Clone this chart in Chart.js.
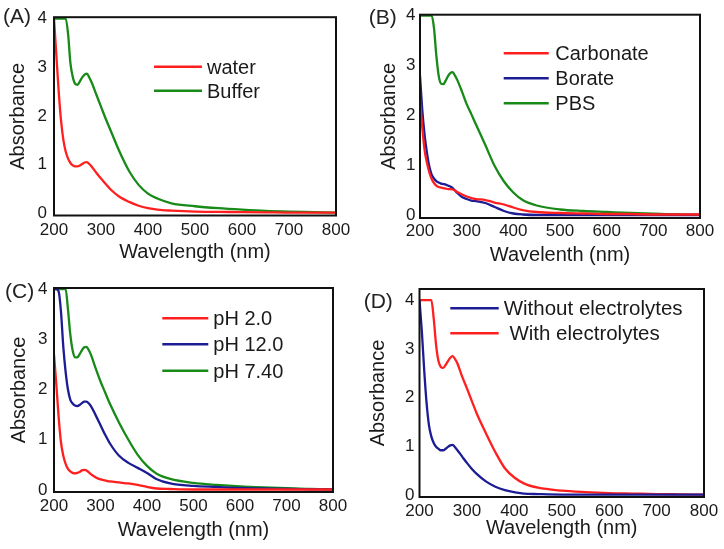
<!DOCTYPE html>
<html><head><meta charset="utf-8">
<script src="https://cdn.jsdelivr.net/npm/chart.js@4.4.1/dist/chart.umd.min.js"></script>
<style>
html,body{margin:0;padding:0;background:#fff;}
body{width:724px;height:549px;position:relative;overflow:hidden;}
canvas{position:absolute;}
</style></head><body>
<canvas id="cA" width="362" height="270" style="left:0px;top:0px"></canvas>
<canvas id="cB" width="362" height="270" style="left:362px;top:0px"></canvas>
<canvas id="cC" width="362" height="279" style="left:0px;top:270px"></canvas>
<canvas id="cD" width="362" height="279" style="left:362px;top:270px"></canvas>
<script>
// ---- data ----
const wavelengths = [200,205,210,215,220,225,230,235,240,245,250,255,260,265,270,275,280,290,300,310,320,340,360,380,400,420,450,500,550,600,650,700,750,800];
const xTicks = [200,300,400,500,600,700,800];
const yTicks = [0,1,2,3,4];

// (A)
const waterA  = [4.0,3.25,2.5,1.9,1.5,1.26,1.12,1.03,0.98,0.96,0.96,0.98,1.01,1.04,1.05,1.01,0.96,0.83,0.71,0.60,0.49,0.33,0.23,0.15,0.10,0.07,0.05,0.03,0.025,0.02,0.015,0.01,0.01,0.01];
const bufferA = [4.0,4.0,4.0,4.0,4.0,4.0,3.68,3.08,2.80,2.66,2.64,2.71,2.79,2.85,2.87,2.79,2.69,2.44,2.19,1.94,1.71,1.25,0.86,0.58,0.40,0.30,0.20,0.14,0.10,0.07,0.045,0.03,0.02,0.01];
// (B)
const carbonateB = [2.3,1.75,1.3,1.05,0.86,0.73,0.65,0.60,0.57,0.56,0.55,0.54,0.53,0.53,0.52,0.50,0.47,0.42,0.38,0.35,0.33,0.31,0.26,0.22,0.16,0.11,0.07,0.05,0.04,0.03,0.03,0.02,0.02,0.02];
const borateB    = [2.8,2.1,1.6,1.25,0.98,0.82,0.74,0.69,0.66,0.64,0.63,0.62,0.60,0.58,0.55,0.50,0.45,0.37,0.33,0.30,0.29,0.25,0.17,0.09,0.04,0.02,0.01,0.01,0.01,0.01,0.01,0.01,0.01,0.01];
const pbsB       = [4.0,4.0,4.0,4.0,4.0,4.0,3.75,3.2,2.80,2.64,2.63,2.70,2.79,2.85,2.87,2.80,2.71,2.48,2.23,2.03,1.82,1.41,0.99,0.68,0.46,0.31,0.20,0.12,0.09,0.07,0.05,0.035,0.02,0.015];
// (C)
const ph2C   = [2.7,2.1,1.45,0.95,0.68,0.52,0.42,0.37,0.34,0.33,0.34,0.36,0.39,0.40,0.39,0.35,0.31,0.25,0.21,0.19,0.17,0.15,0.13,0.10,0.06,0.03,0.02,0.01,0.01,0.01,0.01,0.01,0.01,0.01];
const ph12C  = [4.0,4.0,3.95,3.55,2.85,2.35,2.0,1.8,1.72,1.68,1.67,1.69,1.73,1.76,1.76,1.72,1.66,1.48,1.29,1.10,0.93,0.68,0.54,0.44,0.34,0.22,0.13,0.08,0.06,0.04,0.03,0.02,0.015,0.01];
const ph74C  = [4.0,4.0,4.0,4.0,4.0,4.0,3.6,3.1,2.78,2.64,2.64,2.70,2.78,2.84,2.85,2.78,2.68,2.41,2.16,1.94,1.72,1.34,1.0,0.70,0.48,0.33,0.22,0.14,0.10,0.07,0.05,0.035,0.02,0.015];
// (D)
const withoutD = [4.0,3.35,2.55,1.88,1.43,1.2,1.07,0.99,0.95,0.92,0.92,0.95,0.99,1.02,1.03,0.98,0.92,0.79,0.66,0.54,0.44,0.28,0.17,0.10,0.06,0.03,0.02,0.01,0.01,0.01,0.01,0.01,0.01,0.01];
const withD    = [4.0,4.0,4.0,4.0,4.0,4.0,3.62,3.08,2.75,2.63,2.61,2.67,2.75,2.82,2.85,2.79,2.70,2.43,2.19,1.94,1.69,1.27,0.88,0.55,0.36,0.24,0.15,0.09,0.06,0.04,0.03,0.02,0.015,0.01];

// ---- styling ----
const FONT = '"Liberation Sans", Arial, sans-serif';
const TXT = '#1a1a1a';
const RED = '#ff1f1f', BLUE = '#1c1c94', GREEN = '#178a17';
const TICK_SIZE = 17;

const framePlugin = {
  id: 'frame',
  afterDatasetsDraw(chart) {
    const {ctx, chartArea: a} = chart;
    ctx.save();
    ctx.strokeStyle = '#111';
    ctx.lineWidth = 2;
    ctx.strokeRect(a.left, a.top, a.right - a.left, a.bottom - a.top);
    ctx.restore();
  }
};
const inLegendPlugin = {
  id: 'inLegend',
  afterDraw(chart, args, o) {
    const ctx = chart.ctx;
    ctx.save();
    ctx.textAlign = 'left';
    ctx.textBaseline = 'alphabetic';
    ctx.fillStyle = TXT;
    ctx.font = o.fontSize + 'px ' + FONT;
    chart.data.datasets.forEach((ds, i) => {
      const y = o.ys[i];
      ctx.strokeStyle = ds.borderColor;
      ctx.lineWidth = 2.4;
      ctx.beginPath(); ctx.moveTo(o.x1, y); ctx.lineTo(o.x2, y); ctx.stroke();
      ctx.fillText(ds.label, o.tx, y + 7);
    });
    ctx.font = o.tagSize + 'px ' + FONT;
    ctx.fillStyle = '#222';
    ctx.fillText(o.tag, o.tagX, o.tagY);
    ctx.restore();
  }
};

function makePanel(id, p) {
  new Chart(document.getElementById(id), {
    type: 'line',
    data: {
      datasets: p.series.map(s => ({
        label: s.label,
        data: wavelengths.map((x, i) => ({x: x, y: s.values[i]})),
        borderColor: s.color,
        borderWidth: 2.3,
        pointRadius: 0,
        fill: false,
        cubicInterpolationMode: 'monotone'
      }))
    },
    options: {
      responsive: false,
      animation: false,
      devicePixelRatio: 1,
      layout: {padding: {left: 0, top: p.top, right: p.right, bottom: 0}},
      plugins: {
        legend: {display: false},
        tooltip: {enabled: false},
        inLegend: p.legend
      },
      scales: {
        x: {
          type: 'linear', min: 200, max: 800,
          grid: {display: false, drawTicks: false},
          border: {display: false},
          afterBuildTicks: s => { s.ticks = xTicks.map(v => ({value: v})); },
          afterFit: s => { s.height = p.xH; },
          ticks: {padding: p.xTickPad, font: {family: FONT, size: TICK_SIZE}, color: TXT, maxRotation: 0, autoSkip: false},
          title: {display: true, text: p.xTitle, color: TXT, font: {family: FONT, size: 20}, padding: {top: 0, bottom: p.xTitlePb}}
        },
        y: {
          type: 'linear', min: p.yMin, max: p.yMax,
          grid: {display: false, drawTicks: false},
          border: {display: false},
          afterBuildTicks: s => { s.ticks = yTicks.map(v => ({value: v})); },
          afterFit: s => { s.width = p.yW; },
          ticks: {padding: p.yTickPad, font: {family: FONT, size: TICK_SIZE}, color: TXT, autoSkip: false},
          title: {display: true, text: 'Absorbance', color: TXT, font: {family: FONT, size: 20}, padding: {top: p.yTitlePt, bottom: 0}}
        }
      }
    },
    plugins: [framePlugin, inLegendPlugin]
  });
}

makePanel('cA', {
  series: [{label: 'water', values: waterA, color: RED}, {label: 'Buffer', values: bufferA, color: GREEN}],
  top: 10.5, right: 26, yW: 54, xH: 54.5, yMin: -0.05, yMax: 4.03,
  xTickPad: 4.8, yTickPad: 7, xTitlePb: 6, yTitlePt: 6, xTitle: 'Wavelength (nm)',
  legend: {x1: 154, x2: 202, tx: 207, ys: [66.7, 90.7], fontSize: 20, tag: '(A)', tagX: 3, tagY: 22.5, tagSize: 21}
});
makePanel('cB', {
  series: [{label: 'Carbonate', values: carbonateB, color: RED}, {label: 'Borate', values: borateB, color: BLUE}, {label: 'PBS', values: pbsB, color: GREEN}],
  top: 13, right: 24, yW: 58, xH: 52, yMin: -0.05, yMax: 4.02,
  xTickPad: 2.8, yTickPad: 4.5, xTitlePb: 3, yTitlePt: 15.5, xTitle: 'Wavelenth (nm)',
  legend: {x1: 141.7, x2: 186.7, tx: 193.3, ys: [53.3, 78.3, 103.3], fontSize: 20, tag: '(B)', tagX: 6.7, tagY: 24, tagSize: 21}
});
makePanel('cC', {
  series: [{label: 'pH 2.0', values: ph2C, color: RED}, {label: 'pH 12.0', values: ph12C, color: BLUE}, {label: 'pH 7.40', values: ph74C, color: GREEN}],
  top: 18, right: 29, yW: 54, xH: 57, yMin: -0.04, yMax: 4.02,
  xTickPad: 3.8, yTickPad: 6.5, xTitlePb: 7, yTitlePt: 7.3, xTitle: 'Wavelength (nm)',
  legend: {x1: 162.3, x2: 208.3, tx: 213.3, ys: [48.3, 74.3, 100.7], fontSize: 20, tag: '(C)', tagX: 5, tagY: 27.5, tagSize: 21}
});
makePanel('cD', {
  series: [{label: 'Without electrolytes', values: withoutD, color: BLUE}, {label: ' With electrolytes', values: withD, color: RED}],
  top: 19, right: 20, yW: 57.5, xH: 52, yMin: -0.04, yMax: 4.23,
  xTickPad: 3.8, yTickPad: 5, xTitlePb: 8.7, yTitlePt: 4, xTitle: 'Wavelength (nm)',
  legend: {x1: 88.3, x2: 136.7, tx: 141.7, ys: [38.3, 63.3], fontSize: 20.5, tag: '(D)', tagX: 1.7, tagY: 37.5, tagSize: 21}
});
</script>
</body></html>
